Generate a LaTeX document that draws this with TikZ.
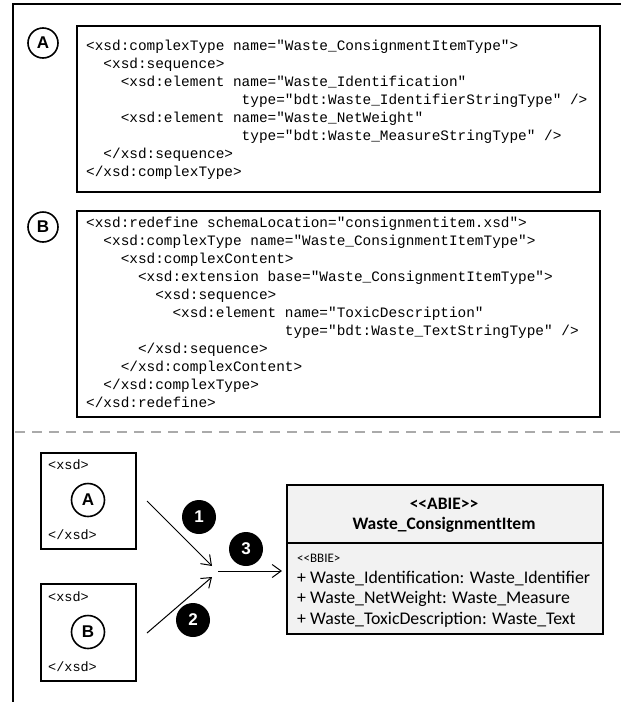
\documentclass[tikz,border=0pt]{standalone}
\usepackage{fontspec}
\setmainfont{Carlito}
\setmonofont{Liberation Mono}
\newfontfamily\circfont{Liberation Sans Bold}
\usetikzlibrary{arrows.meta}
\definecolor{dashgray}{RGB}{170,170,170}
\definecolor{classfill}{RGB}{242,242,242}
\newcommand{\myind}[1]{\hspace*{#1\dimexpr 0.6em\relax}}
\newcommand{\lts}{\mbox{<}}
\newcommand{\gts}{\mbox{>}}
\begin{document}
\begin{tikzpicture}[x=1pt,y=-1pt,
  frame/.style={line width=2pt},
  codebox/.style={draw, line width=1.8pt, inner sep=0pt, anchor=north west, minimum width=523pt},
  code/.style={font=\fontsize{14.4}{17.4}\selectfont\ttfamily, inner sep=0pt, anchor=base west},
  smallcode/.style={font=\fontsize{13.5}{16}\selectfont\ttfamily, inner sep=0pt, anchor=base west},
  letter/.style={circle, draw, line width=1.6pt, inner sep=0pt, font=\circfont\fontsize{17}{17}\selectfont},
  numc/.style={circle, fill=black, minimum size=34pt, inner sep=0pt, text=white, font=\circfont\fontsize{17}{17}\selectfont},
  smallbox/.style={draw, line width=1.5pt, inner sep=0pt, anchor=north west, minimum width=95pt},
  classpart/.style={draw, line width=1.5pt, fill=classfill, inner sep=0pt, anchor=north west, minimum width=316pt},
  arr/.style={line width=1pt, -{Straight Barb[length=9pt,width=13pt]}},
  attr/.style={font=\fontsize{17.8}{20}\selectfont, inner sep=0pt, anchor=base west},
  title/.style={font=\bfseries\fontsize{17.5}{20}\selectfont, inner sep=0pt, anchor=base}]
\useasboundingbox (0,0) rectangle (621,702);
\fill[white] (0,0) rectangle (621,702);
% outer frame
\draw[frame] (12.7,702) -- (12.7,4) -- (621,4);
% box A
\node[codebox, minimum height=166pt] (boxA) at (76,25) {};
\node[letter, minimum size=30pt] (cA) at (43,43) {A};
\foreach \t [count=\i] in {
  {<xsd:complexType name="Waste\_ConsignmentItemType">},
  {\myind{2}<xsd:sequence>},
  {\myind{4}<xsd:element name="Waste\_Identification"},
  {\myind{18}type="bdt:Waste\_IdentifierStringType" />},
  {\myind{4}<xsd:element name="Waste\_NetWeight"},
  {\myind{18}type="bdt:Waste\_MeasureStringType" />},
  {\myind{2}</xsd:sequence>},
  {</xsd:complexType>}}
  \node[code] (la\i) at (86,{50+(\i-1)*18}) {\t};
% box B
\node[codebox, minimum height=206pt] (boxB) at (76,210) {};
\node[letter, minimum size=30pt] (cB) at (43,227) {B};
\foreach \t [count=\i] in {
  {<xsd:redefine schemaLocation="consignmentitem.xsd">},
  {\myind{2}<xsd:complexType name="Waste\_ConsignmentItemType">},
  {\myind{4}<xsd:complexContent>},
  {\myind{6}<xsd:extension base="Waste\_ConsignmentItemType">},
  {\myind{8}<xsd:sequence>},
  {\myind{10}<xsd:element name="ToxicDescription"},
  {\myind{23}type="bdt:Waste\_TextStringType" />},
  {\myind{6}</xsd:sequence>},
  {\myind{4}</xsd:complexContent>},
  {\myind{2}</xsd:complexType>},
  {</xsd:redefine>}}
  \node[code] (lb\i) at (86,{227.5+(\i-1)*18}) {\t};
% separator
\draw[dashgray, line width=2.7pt, dash pattern=on 10pt off 7pt] (15,432) -- (621,432);
% small boxes
\node[smallbox, minimum height=96pt] (sa) at (40,452) {};
\node[smallcode] (sa1) at (48,469) {<xsd>};
\node[letter, minimum size=33pt] (sac) at (88,500) {A};
\node[smallcode] (sa2) at (48,539) {</xsd>};
\node[smallbox, minimum height=97pt] (sb) at (40,583) {};
\node[smallcode] (sb1) at (48,601) {<xsd>};
\node[letter, minimum size=33pt] (sbc) at (88,632) {B};
\node[smallcode] (sb2) at (48,671) {</xsd>};
% class
\node[classpart, minimum height=58pt] (hdr) at (286,484) {};
\node[classpart, minimum height=91pt] (body) at (286,542) {};
\node[title] (t1) at (444,509.5) {\lts\lts ABIE\gts\gts};
\node[title] (t2) at (444,529.5) {Waste\_ConsignmentItem};
\node[attr, font=\fontsize{13}{15}\selectfont] (a0) at (297,562) {\lts\lts BBIE\gts};
\node[attr] (a1) at (297,583) {+ Waste\_Identification: Waste\_Identifier};
\node[attr] (a2) at (297,603.5) {+ Waste\_NetWeight: Waste\_Measure};
\node[attr] (a3) at (297,624) {+ Waste\_ToxicDescription: Waste\_Text};
% arrows
\coordinate (s1) at (147,501);
\coordinate (e1) at (212,566);
\coordinate (s2) at (147,633);
\coordinate (e2) at (212,577);
\coordinate (s3) at (218,571);
\coordinate (e3) at (282,571);
\draw[arr] (s1) -- (e1);
\draw[arr] (s2) -- (e2);
\draw[arr] (s3) -- (e3);
\node[numc] (n1) at (199,517) {1};
\node[numc] (n2) at (193,620) {2};
\node[numc] (n3) at (246,549) {3};
\end{tikzpicture}
\end{document}
